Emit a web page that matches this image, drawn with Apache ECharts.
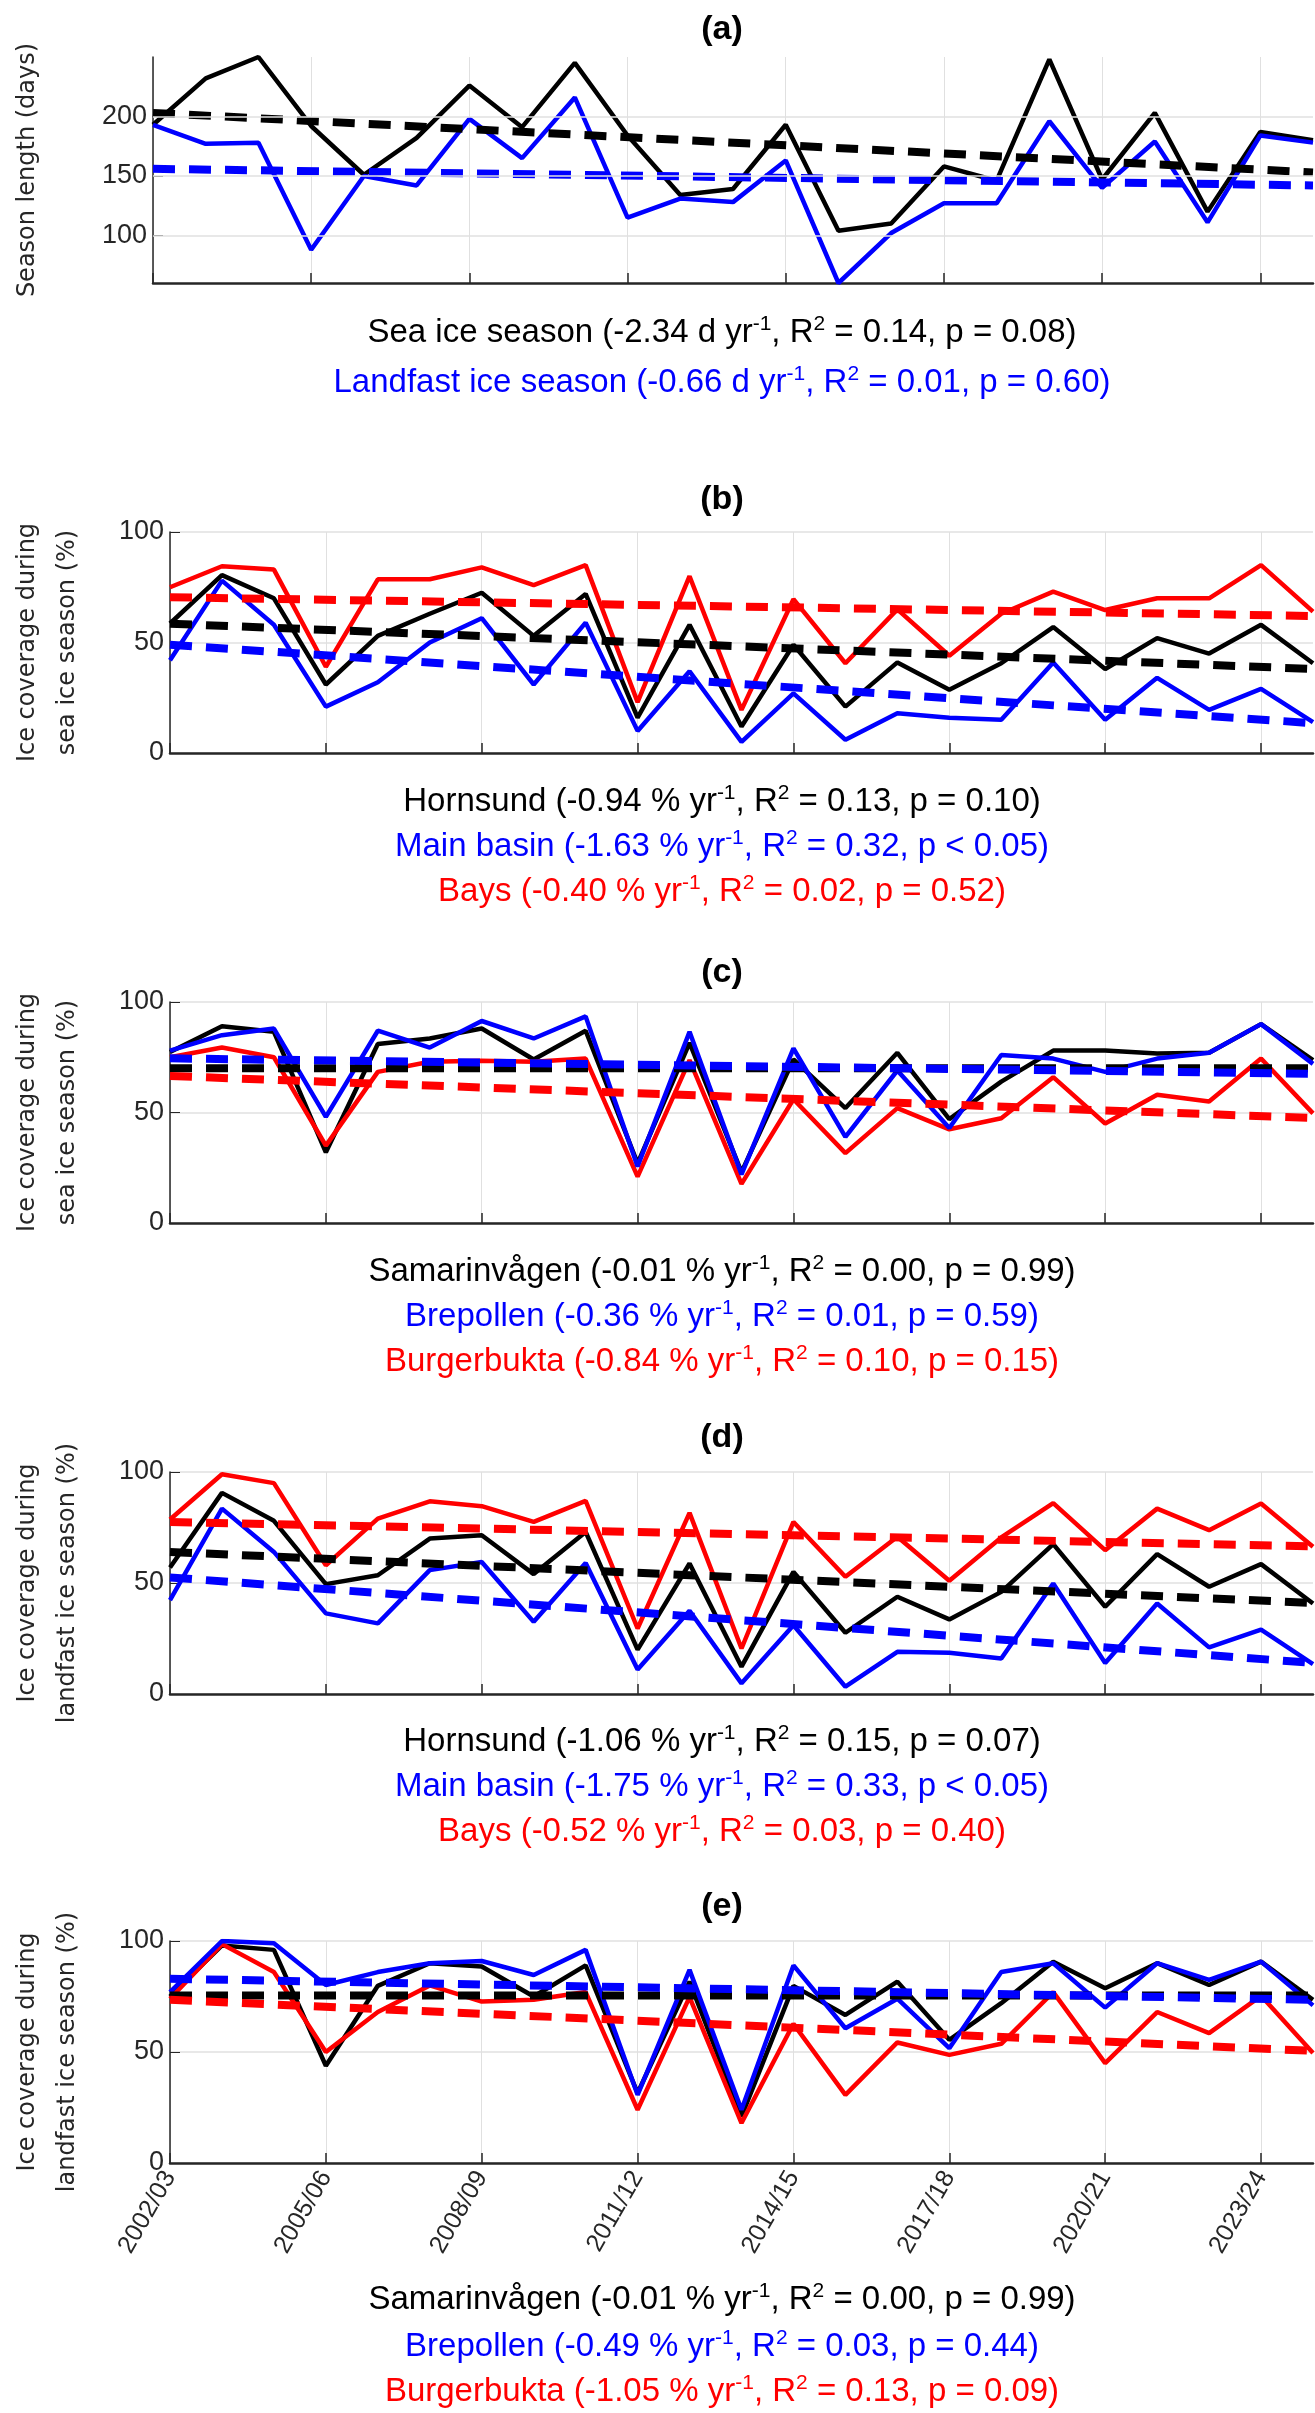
<!DOCTYPE html>
<html>
<head>
<meta charset="utf-8">
<title>Ice seasons</title>
<style>
html,body{margin:0;padding:0;background:#fff}
#chart{width:1315px;height:2413px}
</style>
<script src="https://cdn.jsdelivr.net/npm/echarts@6/dist/echarts.min.js"></script>
</head>
<body>
<div id="chart"></div>
<script>
var seasons = ['2002/03','2003/04','2004/05','2005/06','2006/07','2007/08','2008/09','2009/10','2010/11','2011/12','2012/13',
  '2013/14','2014/15','2015/16','2016/17','2017/18','2018/19','2019/20','2020/21','2021/22','2022/23','2023/24','2024/25'];

// (a) season length, days
var seaIceSeason = [193,232,250,192,151,182,226,191,245,184,134,139,193,104,110,158,146,248,147,203,120,187,180];
var landfastSeason = [193,177,178,88,150,142,198,165,216,115,131,128,163,60,102,127,127,196,140,179,111,184,178];
var trendA = {black:[203,153], blue:[156,142]};

// (b) coverage during sea ice season
var bHornsund = [58.6,80.5,70,31,53,63,72.5,53,72,16,58,12,49,21,41,28.6,40.6,57,38,52,45,58,40.6];
var bMain = [42,78,58,21,32,50,61,31,59,10,37,5,27,6,18,16,15,41,15,34,19.5,29,14];
var bBays = [75,84.5,83,39,78.6,78.6,84,76,85,23,80,19.5,69.6,40.6,65,44,63,73,64.7,70,70,85,64];
var trendB = {black:[58.5,38], blue:[49,13.5], red:[70.5,62]};

// (c) coverage during sea ice season, sub-bays
var cSamarin = [77.4,89,86.5,32,81,83.5,88,74,87,27,81.5,23,74,52,77,47,64,78,78,76.7,77,90,73.7];
var cBrepollen = [78,85,88,48,87,79.4,91.4,83.5,93.5,25.6,86.5,22,79,39,69,43,76,74.4,68.4,74.4,77,90,72];
var cBurger = [75,79.4,75,35,68.4,73,73.4,73,74.4,21,73.7,17.7,56,31.6,52,42.4,47.4,66,45,58,55,74.4,49.6];
var trendC = {black:[70,70], blue:[74.5,67.5], red:[66.5,47.5]};

// (d) coverage during landfast ice season
var dHornsund = [57,90.6,78,49.5,53.5,70,71.5,54,73,20,58.8,12.3,55,27.6,43.8,33.6,46,67.5,39.3,63,48.3,58.5,40.8];
var dMain = [42.3,83.5,64,36.3,31.8,55.8,59.5,32.5,59,11,37.5,4.8,31,3.3,19,18.6,16,49.8,14,40.8,21,29,13.5];
var dBays = [78.6,99,95,58,79,86.8,84.6,77.5,87,29.5,81.6,20.5,77.5,52.8,70.8,51,70.5,86,64.8,83.5,73.8,85.8,66.3];
var trendD = {black:[64,41], blue:[52.5,14], red:[77.5,66.5]};

// (e) coverage during landfast ice season, sub-bays
var eSamarin = [75,98,96,43.8,79.8,90,88.5,75,89,31.5,81.7,21,79.8,66.7,81.7,55.5,72,90.7,78.7,90,80.2,90.7,73.5];
var eBrepollen = [77,100,99,80.2,86,90,91,84.7,96,30.7,87,24,89,60.7,74,51.7,86,90,70,90,82.5,90.7,71];
var eBurger = [74,98.6,86,50,68,80,72.7,73.5,77,24,74.7,18,62.7,30.7,54.3,48.7,53.7,77,45,68,58.5,75.3,49.5];
var trendE = {black:[75.5,75.5], blue:[83,73.5], red:[73.5,50.5]};

// stats text: [name, slope, unit, R2, p-text]
var statsA = [['Sea ice season','-2.34','d','0.14','p = 0.08'],['Landfast ice season','-0.66','d','0.01','p = 0.60']];
var statsB = [['Hornsund','-0.94','%','0.13','p = 0.10'],['Main basin','-1.63','%','0.32','p < 0.05'],['Bays','-0.40','%','0.02','p = 0.52']];
var statsC = [['Samarinvågen','-0.01','%','0.00','p = 0.99'],['Brepollen','-0.36','%','0.01','p = 0.59'],['Burgerbukta','-0.84','%','0.10','p = 0.15']];
var statsD = [['Hornsund','-1.06','%','0.15','p = 0.07'],['Main basin','-1.75','%','0.33','p < 0.05'],['Bays','-0.52','%','0.03','p = 0.40']];
var statsE = [['Samarinvågen','-0.01','%','0.00','p = 0.99'],['Brepollen','-0.49','%','0.03','p = 0.44'],['Burgerbukta','-1.05','%','0.13','p = 0.09']];

var BLACK = '#000000', BLUE = '#0000ff', RED = '#ff0000';
var FONT = '"Liberation Sans", sans-serif';

var panels = [
  {tag:'(a)', top:57, height:226, min:60, max:250, name:'Season length (days)',
   lines:[[seaIceSeason,BLACK],[landfastSeason,BLUE]], trend:trendA, stats:statsA, textY:[333,383], titleY:30},
  {tag:'(b)', top:532, height:221, min:0, max:100, name:'Ice coverage during\nsea ice season (%)',
   lines:[[bMain,BLUE],[bHornsund,BLACK],[bBays,RED]], trend:trendB, stats:statsB, textY:[802,847,892], titleY:500},
  {tag:'(c)', top:1002, height:221, min:0, max:100, name:'Ice coverage during\nsea ice season (%)',
   lines:[[cSamarin,BLACK],[cBurger,RED],[cBrepollen,BLUE]], trend:trendC, stats:statsC, textY:[1272,1317,1362], titleY:973},
  {tag:'(d)', top:1472, height:222, min:0, max:100, name:'Ice coverage during\nlandfast ice season (%)',
   lines:[[dMain,BLUE],[dHornsund,BLACK],[dBays,RED]], trend:trendD, stats:statsD, textY:[1742,1787,1832], titleY:1438},
  {tag:'(e)', top:1941, height:222, min:0, max:100, name:'Ice coverage during\nlandfast ice season (%)',
   lines:[[eSamarin,BLACK],[eBurger,RED],[eBrepollen,BLUE]], trend:trendE, stats:statsE, textY:[2300,2347,2392], titleY:1907}
];

function statText(s){
  return '{n|' + s[0] + ' (' + s[1] + ' ' + s[2] + ' yr}{s|-1}{n|, R}{s|2}{n| = ' + s[3] + ', ' + s[4] + ')}';
}

var grid = [], xAxis = [], yAxis = [], series = [], graphic = [];
var statColors = [BLACK, BLUE, RED];

panels.forEach(function(p, i){
  grid.push({left:132, right:2, top:p.top, height:p.height});
  xAxis.push({
    type:'category', gridIndex:i, data:seasons, boundaryGap:false,
    axisLine:{lineStyle:{color:'#262626', width:2.5}},
    axisTick:{interval:2, inside:true, length:10, lineStyle:{color:'#262626', width:1.5}},
    axisLabel:{show:i === 4, interval:2, rotate:60, fontSize:25, color:'#262626', fontFamily:FONT, margin:10},
    splitLine:{show:true, interval:2, lineStyle:{color:'#e0e0e0', width:1}}
  });
  var ya = {
    type:'value', gridIndex:i, min:p.min, max:p.max,
    name:p.name, nameLocation:'middle', nameRotate:90, nameGap:i === 0 ? 105 : 82,
    nameTextStyle:{fontSize:24, color:'#262626', fontFamily:'"DejaVu Sans", sans-serif', lineHeight:40},
    axisLine:{show:true, lineStyle:{color:'#262626', width:1.5}},
    axisTick:{show:true, inside:true, length:10, lineStyle:{color:'#262626'}},
    axisLabel:{fontSize:27, color:'#262626', fontFamily:FONT, margin:6},
    splitLine:{show:true, lineStyle:{color:'#e0e0e0', width:1.5}}
  };
  if (i === 0) {
    ya.axisLabel.customValues = [100, 150, 200];
    ya.axisTick.customValues = [100, 150, 200];
    ya.splitLine.show = false;
  } else {
    ya.interval = 50;
  }
  yAxis.push(ya);

  p.lines.forEach(function(l){
    series.push({type:'line', xAxisIndex:i, yAxisIndex:i, data:l[0], symbol:'none',
      lineStyle:{color:l[1], width:4.5}, z:3});
  });
  var order = [['black',BLACK],['blue',BLUE],['red',RED]];
  order.forEach(function(o){
    var t = p.trend[o[0]];
    if (!t) return;
    series.push({type:'line', xAxisIndex:i, yAxisIndex:i, data:[[0,t[0]],[seasons.length-1,t[1]]],
      symbol:'none', lineStyle:{color:o[1], width:8, type:[22,14]}, z:4});
  });
  if (i === 0) {
    series.push({type:'line', xAxisIndex:0, yAxisIndex:0, data:[], silent:true,
      markLine:{silent:true, symbol:'none', label:{show:false},
        lineStyle:{color:'#e0e0e0', type:'solid', width:1.5},
        data:[{yAxis:100},{yAxis:150},{yAxis:200}]}, z:1});
  }

  graphic.push({type:'text', x:722, y:p.titleY, style:{text:p.tag, fill:'#000',
    font:'bold 34px ' + FONT, textAlign:'center', textVerticalAlign:'middle'}});
  p.stats.forEach(function(s, k){
    var c = statColors[k];
    graphic.push({type:'text', x:722, y:p.textY[k], style:{
      text:statText(s), textAlign:'center', textVerticalAlign:'middle',
      rich:{
        n:{fontSize:33, fontFamily:FONT, fill:c, color:c},
        s:{fontSize:21, fontFamily:FONT, fill:c, color:c, padding:[0,0,18,0]}
      }
    }});
  });
});

var chart = echarts.init(document.getElementById('chart'));
chart.setOption({
  animation:false,
  grid:grid, xAxis:xAxis, yAxis:yAxis, series:series, graphic:graphic
});
</script>
</body>
</html>
